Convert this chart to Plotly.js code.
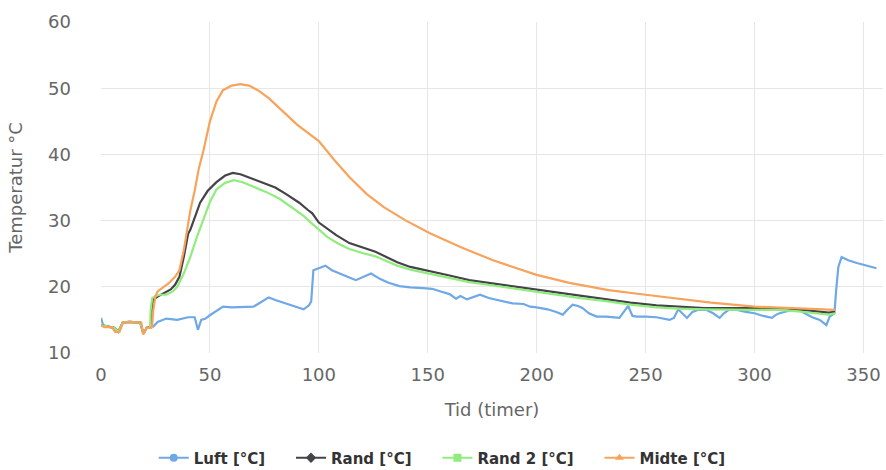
<!DOCTYPE html>
<html><head><meta charset="utf-8">
<script src="https://cdn.plot.ly/plotly-3.0.1.min.js"></script>
<style>body{margin:0;background:#fff}</style>
</head><body><div id="chart" style="width:886px;height:470px"></div>
<script>
// [tid (timer), temperatur °C]
const luft = [[0,15.3],[1,14.2],[3,14.0],[6,13.8],[8,13.2],[10,14.6],[13,14.7],[18,14.6],[19.5,12.9],[21,13.8],[23,13.9],[24,14.0],[26,14.7],[30,15.2],[35,15.0],[40,15.4],[43,15.4],[44.5,13.5],[46,15.0],[48,15.2],[50,15.7],[53,16.3],[56,17.0],[60,16.9],[65,17.0],[70,17.0],[73,17.6],[77,18.4],[80,18.0],[85,17.5],[90,17.0],[93,16.6],[95.5,17.2],[96.5,17.8],[97.5,22.5],[100,22.8],[103,23.2],[106,22.5],[110,22.0],[114,21.4],[117,21.0],[121,21.6],[124,22.0],[128,21.2],[132,20.6],[137,20.1],[142,19.9],[148,19.8],[152,19.7],[156,19.3],[160,18.9],[163,18.2],[165,18.6],[168,18.1],[171,18.5],[174,18.8],[178,18.3],[183,17.9],[189,17.5],[194,17.4],[197,17.0],[200,16.9],[205,16.6],[209,16.2],[212,15.8],[214,16.5],[216.5,17.3],[219,17.1],[221,16.8],[224,16.0],[227.5,15.5],[232,15.5],[238,15.3],[240,16.2],[242,17.1],[244,15.6],[246,15.5],[250,15.5],[255,15.4],[261,15.0],[263,15.3],[265,16.6],[267,15.9],[269,15.3],[271.5,16.2],[274,16.5],[278,16.5],[281,16.0],[284,15.3],[286,16.0],[288.5,16.6],[292,16.5],[296,16.2],[300,16.0],[304,15.6],[308,15.3],[310,15.8],[311.5,16.0],[315,16.3],[319,16.6],[322,16.2],[326.5,15.4],[330,15.0],[333,14.2],[334.5,15.5],[336.7,16.0],[337.5,19.5],[338.5,23.0],[340,24.5],[343,24.0],[347,23.6],[352,23.1],[356,22.8]];
const rand = [[0,14.2],[3,14.0],[6,13.8],[8,13.2],[10,14.6],[13,14.7],[18,14.6],[19.5,12.9],[21,13.8],[23,13.9],[23.6,17.5],[24.2,18.2],[25,18.3],[27,18.7],[30,19.2],[32,19.6],[34,20.3],[36,21.5],[38,24.5],[40,28.0],[41,28.6],[43,30.5],[45.5,32.7],[49,34.5],[53,35.8],[57,36.8],[60.5,37.2],[64,37.0],[68,36.5],[72,36.0],[76,35.6],[80,35.0],[85,34.0],[91,32.7],[95,31.6],[97,31.1],[100,29.7],[104,28.7],[108,27.8],[114,26.6],[120,25.9],[126,25.3],[131,24.5],[136,23.7],[142,23.0],[151,22.4],[160,21.7],[169,21.0],[180,20.5],[190,20.0],[200,19.6],[210,19.1],[220,18.6],[230,18.2],[243,17.6],[255,17.2],[265,17.0],[277,16.8],[288,16.8],[300,16.8],[311,16.8],[320,16.6],[328,16.3],[334,16.1],[337,16.2]];
const rand2 = [[0,14.2],[3,14.0],[6,13.8],[8,13.2],[10,14.6],[13,14.7],[18,14.6],[19.5,12.9],[21,13.8],[22.5,13.8],[22.8,16.5],[23.5,18.3],[25,18.6],[27,18.8],[30,18.8],[33,19.3],[35,20.0],[38,22.0],[41,24.5],[44,27.5],[47,30.0],[50,32.8],[53,34.7],[57,35.7],[61,36.1],[65,35.8],[70,35.1],[76,34.3],[82,33.3],[88,31.9],[93,30.7],[97,29.5],[100,28.6],[104,27.5],[109,26.5],[114,25.7],[120,25.1],[126,24.6],[131,23.9],[136,23.2],[142,22.6],[151,22.0],[160,21.3],[169,20.7],[180,20.2],[190,19.7],[200,19.3],[210,18.8],[220,18.3],[230,17.9],[243,17.3],[255,16.9],[265,16.7],[277,16.6],[288,16.5],[300,16.5],[311,16.5],[320,16.3],[328,16.0],[334,15.8],[337,16.0]];
const midte = [[0,14.2],[1.5,13.9],[5,13.9],[6.5,13.2],[8.5,13.2],[10,14.6],[13,14.7],[18.5,14.6],[19.3,12.8],[21,13.8],[23.4,13.9],[24,16.5],[25,18.6],[26,19.3],[28,19.8],[31,20.5],[34,21.5],[36,22.5],[38,25.5],[39.5,28.6],[41,31.5],[43,34.5],[45,38.0],[47,40.5],[50,45.0],[53,48.0],[56,49.7],[60,50.4],[64,50.6],[68,50.4],[72,49.7],[77,48.5],[83.5,46.5],[90,44.5],[100,42.0],[107,39.2],[114,36.6],[122,34.0],[130,32.0],[140,30.0],[151,28.1],[165,26.0],[180,24.0],[200,21.8],[215,20.6],[233,19.5],[250,18.8],[265,18.2],[280,17.6],[300,17.0],[320,16.7],[337,16.5]];

const seriesNames = ['Luft [°C]', 'Rand [°C]', 'Rand 2 [°C]', 'Midte [°C]'];
const seriesData = [luft, rand, rand2, midte];
const colors = ['#6fa8e6', '#434348', '#90ed7d', '#f7a35c'];
const symbols = ['circle', 'diamond', 'square', 'triangle-up'];

const traces = [];
seriesData.forEach((d, i) => {
  traces.push({
    x: d.map(p => p[0]), y: d.map(p => p[1]),
    type: 'scatter', mode: 'lines', name: seriesNames[i],
    line: {color: colors[i], width: 2.2}, showlegend: false, hoverinfo: 'x+y'
  });
});
const pad = '\u00a0\u00a0\u00a0\u00a0';
seriesNames.forEach((n, i) => {
  traces.push({
    x: [null], y: [null], type: 'scatter', mode: 'lines+markers', name: n + pad,
    line: {color: colors[i], width: 2},
    marker: {color: colors[i], symbol: symbols[i], size: 8}
  });
});

const tickFont = {family: 'DejaVu Sans', size: 18, color: '#666666'};
const layout = {
  width: 886, height: 470,
  margin: {l: 101, r: 3, t: 22, b: 117},
  paper_bgcolor: '#ffffff', plot_bgcolor: '#ffffff',
  font: {family: 'DejaVu Sans', color: '#666666'},
  xaxis: {
    range: [0, 359], tick0: 0, dtick: 50, showgrid: true, gridcolor: '#e6e6e6',
    zeroline: false, showline: false, tickfont: tickFont, ticklabelstandoff: 9,
    automargin: false,
    title: {text: 'Tid (timer)', font: {family: 'DejaVu Sans', size: 18, color: '#666666'}, standoff: 19}
  },
  yaxis: {
    range: [10, 60], tick0: 10, dtick: 10, showgrid: true, gridcolor: '#e6e6e6',
    zeroline: false, showline: false, tickfont: tickFont, ticklabelstandoff: 29,
    automargin: false,
    title: {text: 'Temperatur °C', font: {family: 'DejaVu Sans', size: 18, color: '#666666'}, standoff: 20}
  },
  legend: {
    orientation: 'h', xref: 'container', yref: 'container',
    x: 0.511, xanchor: 'center', y: 0.0255, yanchor: 'middle',
    font: {family: 'DejaVu Sans', size: 15, color: '#333333', weight: 'bold'},
    itemwidth: 30
  },
  showlegend: true
};
Plotly.newPlot('chart', traces, layout, {displayModeBar: false, staticPlot: true});
</script></body></html>
